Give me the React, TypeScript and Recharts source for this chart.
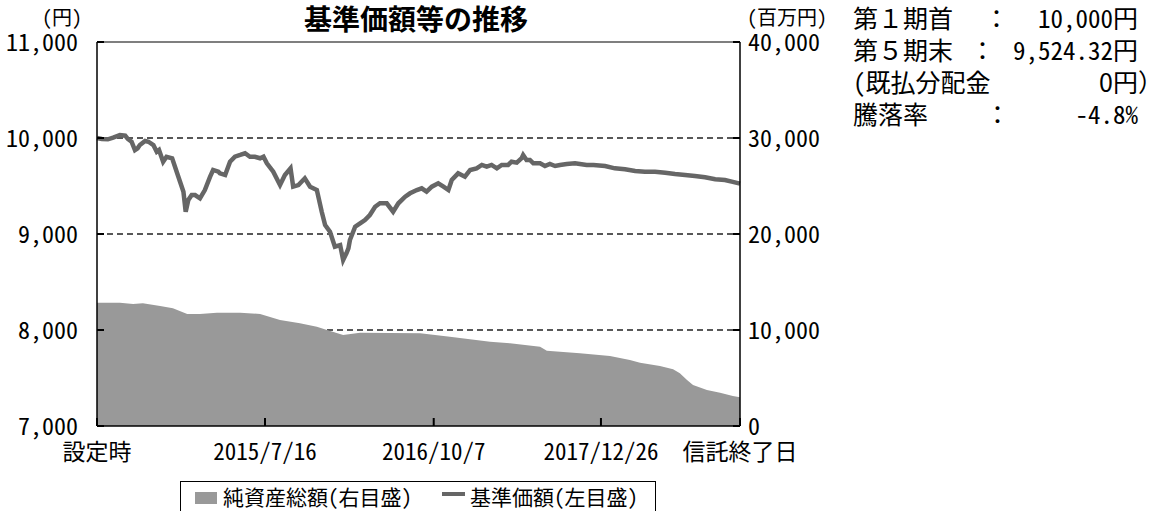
import React from 'react';
import { ComposedChart, Line, Area, XAxis, YAxis, CartesianGrid, ReferenceLine } from 'recharts';

// days since 設定時 / 基準価額 (円)
const navDays = [
  0, 13, 29, 43, 61, 75, 82, 92, 101, 108, 114, 128, 137, 150, 159, 165, 176, 185, 200, 212,
  221, 230, 236, 243, 252, 261, 274, 287, 301, 309, 323, 327, 341, 354, 367, 381, 394, 407, 420, 434,
  443, 452, 469, 487, 500, 515, 522, 536, 553, 567, 585, 598, 607, 620, 633, 647, 655, 664, 669, 673,
  687, 700, 713, 726, 740, 753, 771, 788, 802, 820, 833, 851, 864, 877, 891, 908, 922, 935, 944, 961,
  979, 993, 1010, 1024, 1037, 1050, 1064, 1077, 1094, 1103, 1117, 1130, 1134, 1143, 1152, 1161, 1179, 1192, 1205, 1219,
  1232, 1250, 1272, 1285, 1303, 1321, 1352, 1378, 1405, 1432, 1458, 1485, 1512, 1538, 1565, 1591, 1618, 1645, 1671, 1689,
  1711,
];
const navValues = [
  10000, 9990, 9986, 10003, 10031, 10024, 9990, 9961, 9875, 9893, 9927, 9969, 9961, 9927, 9857, 9875, 9753, 9805, 9789, 9649,
  9545, 9440, 9232, 9354, 9406, 9406, 9372, 9458, 9597, 9667, 9649, 9632, 9615, 9753, 9805, 9823, 9841, 9805, 9805, 9789,
  9805, 9736, 9649, 9510, 9615, 9684, 9493, 9510, 9580, 9493, 9458, 9232, 9094, 9024, 8868, 8885, 8729, 8802, 8851, 8937,
  9076, 9111, 9146, 9198, 9284, 9320, 9320, 9232, 9320, 9389, 9424, 9458, 9476, 9441, 9493, 9528, 9493, 9458, 9563, 9632,
  9597, 9667, 9684, 9719, 9701, 9719, 9684, 9719, 9719, 9753, 9743, 9789, 9823, 9771, 9771, 9736, 9736, 9708, 9729, 9708,
  9719, 9729, 9736, 9729, 9719, 9719, 9708, 9684, 9674, 9656, 9649, 9649, 9639, 9625, 9615, 9604, 9591, 9570, 9563, 9545,
  9524.32,
];

// days since 設定時 / 純資産総額 (百万円)
const assetDays = [
  0, 61, 96, 122, 168, 202, 240, 274, 319, 381, 434, 487, 540, 585, 612, 655, 700, 860, 939, 1046,
  1099, 1179, 1197, 1285, 1365, 1418, 1445, 1498, 1533, 1551, 1570, 1586, 1623, 1658, 1692, 1711,
];
const assetValues = [
  12850, 12850, 12710, 12780, 12500, 12260, 11670, 11670, 11800, 11800, 11670, 11040, 10700, 10340, 10000, 9480, 9720, 9650, 9300, 8780,
  8610, 8260, 7850, 7570, 7290, 6880, 6600, 6250, 5900, 5490, 4790, 4270, 3750, 3470, 3125, 2990,
];

const xTickDays = [0, 447, 896, 1341, 1711];
const xTickLabels = ['設定時', '2015/7/16', '2016/10/7', '2017/12/26', '信託終了日'];
const leftTicks = [7000, 8000, 9000, 10000, 11000];
const rightTicks = [0, 10000, 20000, 30000, 40000];
const gridValues = [8000, 9000, 10000];

const table = Array.from(new Set([...navDays, ...assetDays]))
  .sort((a, b) => a - b)
  .map((day) => {
    const ni = navDays.indexOf(day);
    const ai = assetDays.indexOf(day);
    return {
      day,
      nav: ni >= 0 ? navValues[ni] : null,
      assets: ai >= 0 ? assetValues[ai] : null,
    };
  });

const FONT = "'Noto Sans CJK JP', sans-serif";
const hw: React.CSSProperties = { fontFeatureSettings: '"hwid"' };
const fmt = (v: number) => v.toLocaleString('en-US');

function LeftTick(props: any) {
  const { x, y, payload } = props;
  return (
    <text x={x} y={y} dy={9} textAnchor="end" fontSize={24} fontFamily={FONT} fill="#000" style={hw}>
      {fmt(payload.value)}
    </text>
  );
}

function RightTick(props: any) {
  const { x, y, payload } = props;
  return (
    <text x={x} y={y} dy={9} textAnchor="start" fontSize={24} fontFamily={FONT} fill="#000" style={hw}>
      {fmt(payload.value)}
    </text>
  );
}

function BottomTick(props: any) {
  const { x, y, payload } = props;
  const i = xTickDays.indexOf(payload.value);
  return (
    <text x={x} y={y} dy={22} textAnchor="middle" fontSize={23} fontFamily={FONT} fill="#000" style={hw}>
      {xTickLabels[i]}
    </text>
  );
}

// absolute text box; half-width digits only where asked
const abs = (left: number, top: number, size: number, extra: React.CSSProperties = {}, half = true): React.CSSProperties => ({
  position: 'absolute',
  left,
  top,
  fontSize: size,
  lineHeight: 1,
  fontFamily: FONT,
  whiteSpace: 'nowrap',
  color: '#000',
  ...(half ? hw : {}),
  ...extra,
});

export default function App() {
  return (
    <div style={{ position: 'absolute', left: 0, top: 0, width: 1169, height: 511, background: '#fff', overflow: 'hidden' }}>
      <ComposedChart width={830} height={511} data={table} margin={{ top: 42, right: 0, bottom: 45, left: 0 }}>
        <CartesianGrid
          yAxisId="left"
          vertical={false}
          horizontalValues={gridValues}
          stroke="#222"
          strokeWidth={1.3}
          strokeDasharray="6 4"
        />
        <XAxis
          dataKey="day"
          type="number"
          domain={[0, 1711]}
          ticks={xTickDays}
          height={40}
          axisLine={{ stroke: '#000', strokeWidth: 1.5 }}
          tickLine={{ stroke: '#000', strokeWidth: 2 }}
          tickSize={-8}
          tickMargin={20}
          tick={<BottomTick />}
          interval={0}
        />
        <YAxis
          yAxisId="left"
          orientation="left"
          domain={[7000, 11000]}
          ticks={leftTicks}
          width={97}
          axisLine={{ stroke: '#000', strokeWidth: 1.5 }}
          tickLine={{ stroke: '#000', strokeWidth: 2 }}
          tickSize={-7}
          tickMargin={26}
          tick={<LeftTick />}
          interval={0}
        />
        <YAxis
          yAxisId="right"
          orientation="right"
          domain={[0, 40000]}
          ticks={rightTicks}
          width={90}
          axisLine={{ stroke: '#000', strokeWidth: 1.5 }}
          tickLine={{ stroke: '#000', strokeWidth: 2 }}
          tickSize={-7}
          tickMargin={15}
          tick={<RightTick />}
          interval={0}
        />
        <Area
          yAxisId="right"
          type="linear"
          dataKey="assets"
          fill="#999999"
          fillOpacity={1}
          stroke="none"
          connectNulls
          isAnimationActive={false}
        />
        <Line
          yAxisId="left"
          type="linear"
          dataKey="nav"
          stroke="#666666"
          strokeWidth={4.5}
          dot={false}
          connectNulls
          isAnimationActive={false}
        />
        <ReferenceLine yAxisId="left" y={11000} stroke="#555" strokeWidth={1.5} />
      </ComposedChart>

      <div style={abs(0, 4, 28, { width: 832, textAlign: 'center', fontWeight: 700 }, false)}>基準価額等の推移</div>
      <div style={abs(42, 7, 20)}>(円)</div>
      <div style={abs(747, 7, 20)}>(百万円)</div>

      <div style={abs(853, 5, 25, {}, false)}>第１期首</div>
      <div style={abs(984, 5, 25, {}, false)}>：</div>
      <div style={abs(1000, 5, 25, { width: 138, textAlign: 'right' })}>10,000円</div>

      <div style={abs(853, 36.5, 25, {}, false)}>第５期末</div>
      <div style={abs(970, 36.5, 25, {}, false)}>：</div>
      <div style={abs(1000, 36.5, 25, { width: 138, textAlign: 'right' })}>9,524.32円</div>

      <div style={abs(853, 68.5, 25)}>(既払分配金</div>
      <div style={abs(1000, 68.5, 25, { width: 163, textAlign: 'right' }, false)}>0円）</div>

      <div style={abs(853, 100.5, 25, {}, false)}>騰落率</div>
      <div style={abs(985, 100.5, 25, {}, false)}>：</div>
      <div style={abs(1000, 100.5, 25, { width: 138, textAlign: 'right' })}>-4.8%</div>

      <div style={{ position: 'absolute', left: 180, top: 481, width: 476, height: 40, border: '1px solid #000', boxSizing: 'border-box' }} />
      <div style={{ position: 'absolute', left: 195, top: 492, width: 22, height: 12, background: '#999999' }} />
      <div style={abs(223, 486, 21)}>純資産総額(右目盛)</div>
      <div style={{ position: 'absolute', left: 442, top: 492, width: 23, height: 4, background: '#666666' }} />
      <div style={abs(470, 486, 21)}>基準価額(左目盛)</div>
    </div>
  );
}
